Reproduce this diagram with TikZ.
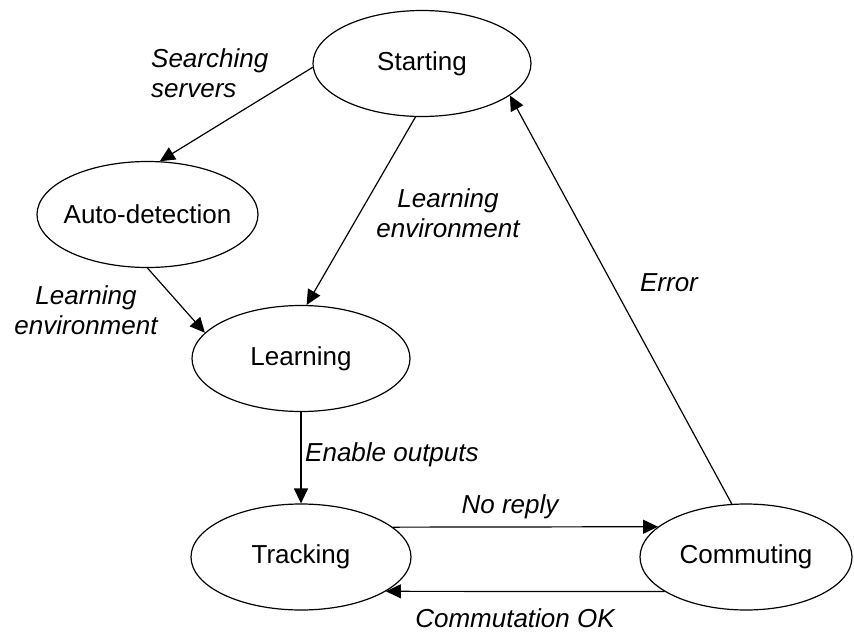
\documentclass[tikz,border=0pt]{standalone}
\usepackage{fontspec}
\setmainfont{Liberation Sans}
\usetikzlibrary{arrows.meta,shapes.geometric}
\begin{document}
\begin{tikzpicture}[x=1pt,y=-1pt,
  state/.style={draw,ellipse,inner sep=0pt,line width=1.2pt,minimum height=106pt,font=\fontsize{26}{31}\selectfont},
  lbl/.style={font=\fontsize{26}{30}\selectfont\itshape,inner sep=0pt},
  conn/.style={line width=1.2pt,-{Triangle[length=15pt,width=14pt]}}]
\useasboundingbox (0,0) rectangle (854,632);
% states
\node[state,minimum width=218pt] (S) at (422,63.5) {\makebox[0pt]{Starting}};
\node[state,minimum width=221pt] (A) at (147.5,214.5) {\makebox[0pt]{Auto-detection}};
\node[state,minimum width=218pt] (L) at (301,358.5) {\makebox[0pt]{Learning}};
\node[state,minimum width=220pt] (T) at (301,557) {\makebox[0pt]{Tracking}};
\node[state,minimum width=212pt] (C) at (746,557) {\makebox[0pt]{Commuting}};
% connectors
\draw[conn] (S.182) -- (A.77);
\draw[conn] (S.263) -- (L.84);
\draw[conn] (A.270) -- (L.165);
\draw[conn] (L.south) -- (T.north);
\draw[conn] (T.18.3) -- (C.161.05);
\draw[conn] (C.203.73) -- (T.-22.96);
\draw[conn] (C.105) -- (S.-20.7);
% labels
\node[lbl,anchor=west,align=left] (l1) at (151,73) {Searching\\servers};
\node[lbl,align=center] (l2) at (448,213) {Learning\\environment};
\node[lbl,align=center] (l3) at (86,310) {Learning\\environment};
\node[lbl,anchor=west] (l4) at (305,455) {Enable outputs};
\node[lbl] (l5) at (510,507) {No reply};
\node[lbl] (l6) at (515,618) {Commutation OK};
\node[lbl] (l7) at (669,283) {Error};
\end{tikzpicture}
\end{document}
